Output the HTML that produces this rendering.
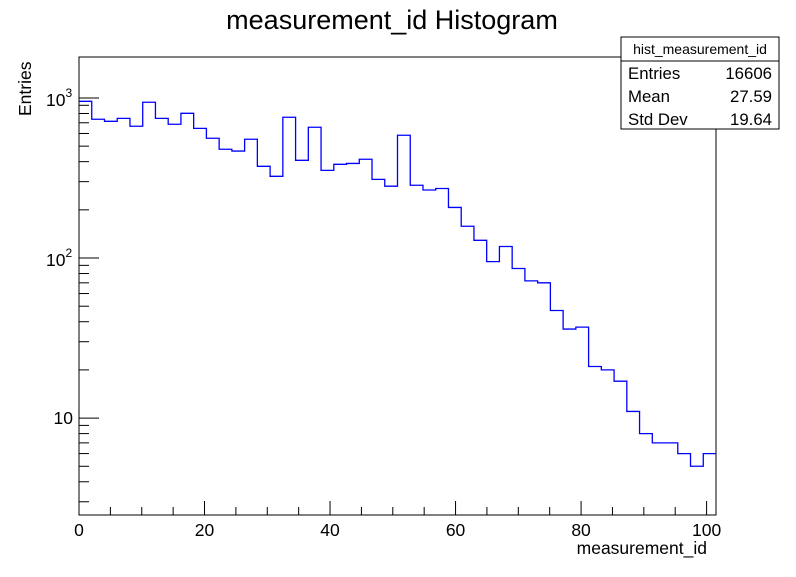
<!DOCTYPE html>
<html><head><meta charset="utf-8"><style>
body{margin:0;background:#fff}
svg text{font-family:"Liberation Sans",sans-serif}
</style></head><body>
<svg id="c" width="796" height="572" viewBox="0 0 796 572" xmlns="http://www.w3.org/2000/svg">
<rect width="796" height="572" fill="#fff"/>
<text x="392" y="29" font-size="27" text-anchor="middle">measurement_id Histogram</text>
<rect x="79" y="57" width="637" height="458" fill="none" stroke="#000"/>
<g id="axes"></g>
<path id="hist" fill="none" stroke="#0000ff" stroke-width="1.3"/>
<text x="707" y="554" font-size="17.5" text-anchor="end">measurement_id</text>
<text transform="translate(31,116) rotate(-90)" font-size="17.5">Entries</text>
<g>
<rect x="621" y="37" width="158" height="92" fill="#fff" stroke="#000"/>
<line x1="621" y1="61" x2="779" y2="61" stroke="#000"/>
<text x="700" y="54" font-size="14" text-anchor="middle">hist_measurement_id</text>
<text x="628" y="79" font-size="16.8">Entries</text><text x="772" y="79" font-size="16.8" text-anchor="end">16606</text>
<text x="628" y="102" font-size="16.8">Mean</text><text x="772" y="102" font-size="16.8" text-anchor="end">27.59</text>
<text x="628" y="125" font-size="16.8">Std Dev</text><text x="772" y="125" font-size="16.8" text-anchor="end">19.64</text>
</g>
</svg>
<script>
const counts=[953,736,715,746,666,940,746,685,802,646,560,478,466,552,374,324,758,408,656,353,385,390,414,310,281,585,285,266,272,207,158,129,95,118,86,72,70,47,36,37,21,20,17,11,8,7,7,6,5,6];
const xTicks=[0,20,40,60,80,100];
const yMajor=[10,100,1000];
const xMin=0,xMax=101.5,yMin=2.48,yMax=1803;
const L=79,R=716,T=57,B=515;
const sx=v=>L+(v-xMin)/(xMax-xMin)*(R-L);
const sy=v=>B-(Math.log10(v)-Math.log10(yMin))/(Math.log10(yMax)-Math.log10(yMin))*(B-T);
const NS="http://www.w3.org/2000/svg";
const ax=document.getElementById('axes');
function ln(x1,y1,x2,y2){const l=document.createElementNS(NS,'line');l.setAttribute('x1',x1);l.setAttribute('y1',y1);l.setAttribute('x2',x2);l.setAttribute('y2',y2);l.setAttribute('stroke','#000');ax.appendChild(l);return l;}
function tx(x,y,s,anchor){const t=document.createElementNS(NS,'text');t.setAttribute('x',x);t.setAttribute('y',y);t.setAttribute('font-size','17.5');t.setAttribute('text-anchor',anchor);t.textContent=s;ax.appendChild(t);return t;}
for(let v=0;v<=xMax;v+=5){const x=sx(v);const maj=v%20===0;const l=ln(x,B,x,B-(maj?14:8));

}
xTicks.forEach(v=>{const t=tx(sx(v),536,String(v),'middle');

});
for(let d=1;d<=1000;d*=10){for(let m=1;m<10;m++){const v=d*m;if(v<yMin||v>yMax)continue;const y=sy(v);const l=ln(L,y,L+(m===1?20:10),y);

}}
yMajor.forEach(v=>{const y=sy(v);let t;
if(v===10){t=tx(73,y+6,'10','end');}
else{t=document.createElementNS(NS,'text');t.setAttribute('x',46);t.setAttribute('y',y+8);t.setAttribute('font-size','17.5');t.innerHTML='10<tspan dy="-9" font-size="12">'+Math.round(Math.log10(v))+'</tspan>';ax.appendChild(t);}

});
const w=(xMax-xMin)/counts.length;
let d='M'+sx(0)+' '+sy(counts[0]);
counts.forEach((c,i)=>{const y=sy(c);d+=' L'+sx(i*w)+' '+y+' L'+sx((i+1)*w)+' '+y;});
document.getElementById('hist').setAttribute('d',d);
</script>
</body></html>
